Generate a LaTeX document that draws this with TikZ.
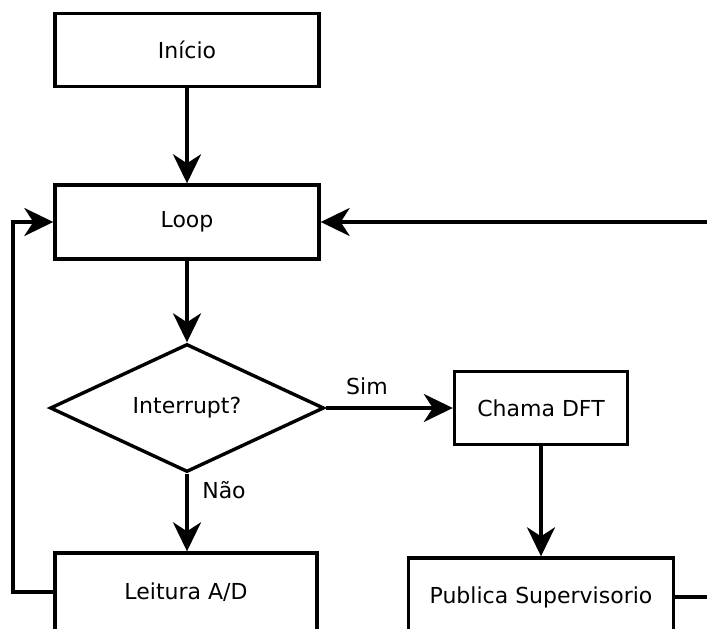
\documentclass[tikz,border=0pt]{standalone}
\usepackage{fontspec}
\setmainfont{DejaVu Sans}
\usetikzlibrary{arrows.meta,shapes.geometric}
\begin{document}
\begin{tikzpicture}[x=1pt,y=-1pt,
  every node/.style={font=\fontsize{22}{26}\selectfont},
  box/.style={draw, line width=3.4pt, rectangle, inner sep=0pt},
  decision/.style={draw, line width=3.4pt, diamond, inner sep=0pt, aspect=2.1},
  flow/.style={line width=3.4pt, -{Stealth[length=29pt, width=28pt, inset=9pt]}},
  plain/.style={line width=3.4pt},
  lbl/.style={inner sep=0pt}]
  \useasboundingbox (0,0) rectangle (707,629);

  % process blocks
  \node[box, minimum width=264pt, minimum height=73pt] (start) at (187,50) {Início};
  \node[box, minimum width=264pt, minimum height=74pt] (loop) at (187,222) {Loop};
  \node[decision, minimum width=274pt, minimum height=128pt] (dec) at (187,408) {Interrupt?};
  \node[box, minimum width=173pt, minimum height=73pt] (dft) at (541,408) {Chama DFT};
  \node[box, minimum width=265pt, minimum height=78pt] (pub) at (541,597) {Publica Supervisorio};
  \node[box, minimum width=262pt, minimum height=78pt] (adc) at (186,592) {Leitura A/D};

  % free ends at the right border
  \coordinate (rin) at (707,222);
  \coordinate (rout) at (707,597);
  \coordinate (lcorner) at (13,592);

  % connectors
  \draw[flow] (start.south) -- (start.south |- loop.north);
  \draw[flow] (loop.south) -- (dec.north);
  \draw[flow] (dec.east) -- (dft.west);
  \draw[flow] (dec.south) -- (dec.south |- adc.north);
  \draw[flow] (dft.south) -- (pub.north);
  \draw[plain] (pub.east) -- (rout);
  \draw[flow] (rin) -- (loop.east);
  \draw[flow] (adc.west) -- (lcorner) |- (loop.west);

  % branch labels
  \node[lbl] (sim) at (367,386) {Sim};
  \node[lbl] (nao) at (224,490) {Não};
\end{tikzpicture}
\end{document}
